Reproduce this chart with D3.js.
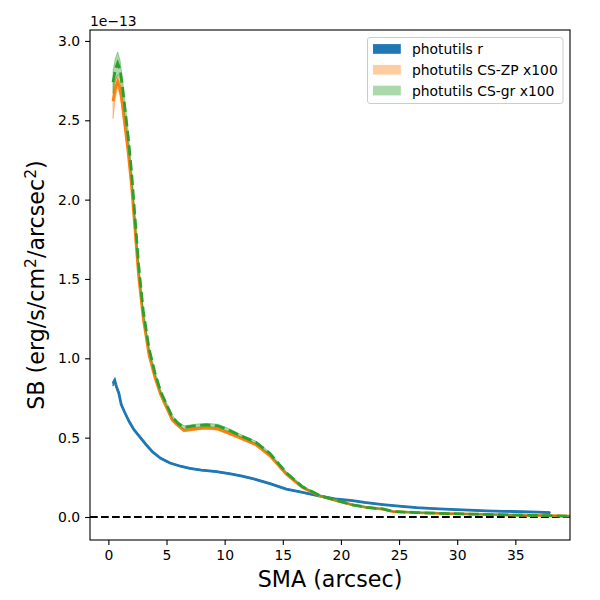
<!DOCTYPE html>
<html>
<head>
<meta charset="utf-8">
<script src="https://cdn.jsdelivr.net/npm/d3@7"></script>
<style>
  body { margin: 0; background: #fff; }
  svg { font-family: "DejaVu Sans", sans-serif; }
</style>
</head>
<body>
<svg id="chart" width="600" height="600"></svg>
<script>
// surface brightness profiles, values in units of 1e-13 erg/s/cm2/arcsec2

// photutils r
var smaR = [0.4, 0.55, 0.7, 0.9, 1.1, 1.4, 1.8, 2.2, 2.7, 3.2, 3.8, 4.5, 5.3, 6.2, 7.0, 8.0, 9.3, 10.5, 11.5, 12.5, 13.9, 15.3, 16.5, 18.2, 19.5, 21.0, 22.0, 23.6, 25.0, 26.5, 28.0, 29.4, 31.0, 32.5, 34.0, 35.5, 37.0, 38.0];
var sbR  = [0.84, 0.86, 0.82, 0.78, 0.71, 0.66, 0.60, 0.55, 0.505, 0.46, 0.41, 0.37, 0.34, 0.32, 0.307, 0.295, 0.286, 0.272, 0.258, 0.24, 0.21, 0.176, 0.158, 0.132, 0.114, 0.103, 0.092, 0.078, 0.068, 0.059, 0.053, 0.048, 0.043, 0.039, 0.036, 0.033, 0.030, 0.027];
var errR = [0.015, 0.012, 0.01, 0.008, 0.006, 0.005, 0.005, 0.004, 0.004, 0.004, 0.003, 0.003, 0.003, 0.003, 0.003, 0.003, 0.003, 0.003, 0.003, 0.003, 0.003, 0.003, 0.002, 0.002, 0.002, 0.002, 0.002, 0.002, 0.002, 0.002, 0.002, 0.002, 0.002, 0.002, 0.002, 0.002, 0.002, 0.002];

// photutils CS-ZP x100 and CS-gr x100 (same sma grid)
var smaCS = [0.4, 0.6, 0.8, 1.0, 1.2, 1.45, 1.7, 2.0, 2.3, 2.6, 3.0, 3.5, 4.0, 4.5, 5.0, 5.5, 6.0, 6.5, 7.5, 8.4, 9.4, 10.3, 11.3, 12.7, 13.9, 15.3, 16.7, 18.2, 19.6, 21.0, 22.2, 23.6, 24.5, 26.5, 29.4, 32.2, 35.0, 38.0, 39.7];
var sbZP  = [2.62, 2.70, 2.745, 2.70, 2.60, 2.45, 2.30, 2.08, 1.80, 1.52, 1.25, 1.02, 0.88, 0.77, 0.69, 0.61, 0.575, 0.545, 0.555, 0.562, 0.555, 0.53, 0.50, 0.455, 0.385, 0.27, 0.185, 0.132, 0.103, 0.076, 0.060, 0.050, 0.034, 0.027, 0.021, 0.017, 0.012, 0.008, 0.005];
var errZP = [0.11, 0.06, 0.04, 0.04, 0.03, 0.025, 0.02, 0.02, 0.02, 0.015, 0.015, 0.012, 0.01, 0.01, 0.01, 0.01, 0.008, 0.008, 0.008, 0.008, 0.008, 0.008, 0.008, 0.007, 0.007, 0.006, 0.005, 0.004, 0.004, 0.003, 0.003, 0.003, 0.003, 0.002, 0.002, 0.002, 0.002, 0.002, 0.002];
var sbGR  = [2.74, 2.82, 2.86, 2.82, 2.72, 2.56, 2.40, 2.17, 1.88, 1.59, 1.30, 1.06, 0.91, 0.79, 0.71, 0.63, 0.59, 0.565, 0.575, 0.58, 0.575, 0.55, 0.515, 0.47, 0.40, 0.28, 0.19, 0.135, 0.105, 0.077, 0.061, 0.051, 0.035, 0.028, 0.021, 0.017, 0.012, 0.008, 0.005];
var errGR = [0.07, 0.07, 0.07, 0.06, 0.05, 0.04, 0.03, 0.025, 0.02, 0.02, 0.015, 0.012, 0.01, 0.01, 0.01, 0.01, 0.01, 0.01, 0.01, 0.01, 0.01, 0.01, 0.008, 0.008, 0.007, 0.006, 0.005, 0.004, 0.004, 0.003, 0.003, 0.003, 0.003, 0.002, 0.002, 0.002, 0.002, 0.002, 0.002];

var xTicks = [0, 5, 10, 15, 20, 25, 30, 35];
var yTicks = [0.0, 0.5, 1.0, 1.5, 2.0, 2.5, 3.0];
var legendNames = ["photutils r", "photutils CS-ZP x100", "photutils CS-gr x100"];

var svg = d3.select("#chart");
var axL = 90, axR = 570, axT = 30, axB = 540;

var x = d3.scaleLinear().domain([-1.58, 39.7]).range([axL, axR]);
var y = d3.scaleLinear().domain([-0.145, 3.069]).range([axB, axT]);

svg.append("defs").append("clipPath").attr("id", "clip")
  .append("rect").attr("x", axL).attr("y", axT)
  .attr("width", axR - axL).attr("height", axB - axT);

var plot = svg.append("g").attr("clip-path", "url(#clip)");

// zero line
plot.append("line")
  .attr("x1", axL).attr("x2", axR)
  .attr("y1", y(0)).attr("y2", y(0))
  .attr("stroke", "black").attr("stroke-width", 2.08)
  .attr("stroke-dasharray", "7.7,3.3");

function drawSeries(sma, sb, err, color, fillOpacity, dashed) {
  var pts = sma.map((s, i) => ({x: s, y: sb[i], e: err[i]}));
  var area = d3.area()
    .x(d => x(d.x))
    .y0(d => y(d.y - d.e))
    .y1(d => y(d.y + d.e));
  plot.append("path").datum(pts)
    .attr("d", area)
    .attr("fill", color).attr("fill-opacity", fillOpacity)
    .attr("stroke", color).attr("stroke-opacity", fillOpacity).attr("stroke-width", 1);
  var line = d3.line().x(d => x(d.x)).y(d => y(d.y));
  plot.append("path").datum(pts)
    .attr("d", line)
    .attr("fill", "none")
    .attr("stroke", color).attr("stroke-width", 2.78)
    .attr("stroke-dasharray", dashed ? "10.3,4.4" : null);
}

drawSeries(smaR, sbR, errR, "#1f77b4", 1, false);
drawSeries(smaCS, sbZP, errZP, "#ff7f0e", 0.4, false);
drawSeries(smaCS, sbGR, errGR, "#2ca02c", 0.4, true);

// axes
var xAxis = svg.append("g").attr("transform", "translate(0," + axB + ")")
  .call(d3.axisBottom(x).tickValues(xTicks).tickFormat(d3.format("d")).tickSize(4.9).tickPadding(4.9));
var yAxis = svg.append("g").attr("transform", "translate(" + axL + ",0)")
  .call(d3.axisLeft(y).tickValues(yTicks).tickFormat(d3.format(".1f")).tickSize(4.9).tickPadding(4.9));

[xAxis, yAxis].forEach(g => {
  g.select(".domain").remove();
  g.selectAll(".tick line").attr("stroke", "black").attr("stroke-width", 1.1);
  g.selectAll(".tick text").attr("font-family", "DejaVu Sans").attr("font-size", 13.9).attr("fill", "black");
});

svg.append("rect")
  .attr("x", axL).attr("y", axT)
  .attr("width", axR - axL).attr("height", axB - axT)
  .attr("fill", "none").attr("stroke", "black").attr("stroke-width", 1.1);

// offset text
svg.append("text").attr("x", axL).attr("y", 26)
  .attr("font-size", 13.9).text("1e\u221213");

// axis labels
svg.append("text").attr("x", (axL + axR) / 2).attr("y", 587)
  .attr("text-anchor", "middle").attr("font-size", 22.2)
  .text("SMA (arcsec)");

var yl = svg.append("text")
  .attr("transform", "translate(43.5," + ((axT + axB) / 2) + ") rotate(-90)")
  .attr("text-anchor", "middle").attr("font-size", 22.2);
yl.append("tspan").text("SB (erg/s/cm");
yl.append("tspan").attr("dy", -8).attr("font-size", 15.5).text("2");
yl.append("tspan").attr("dy", 8).text("/arcsec");
yl.append("tspan").attr("dy", -8).attr("font-size", 15.5).text("2");
yl.append("tspan").attr("dy", 8).text(")");

// legend
var leg = svg.append("g");
leg.append("rect")
  .attr("x", 367.5).attr("y", 37.5).attr("width", 195.5).attr("height", 66)
  .attr("rx", 2.5).attr("fill", "white").attr("fill-opacity", 0.8)
  .attr("stroke", "#cccccc").attr("stroke-width", 1);
var legColors = ["#1f77b4", "#ff7f0e", "#2ca02c"];
var legOpacity = [1, 0.4, 0.4];
legendNames.forEach((name, i) => {
  var cy = 49 + i * 20.8;
  leg.append("rect")
    .attr("x", 373).attr("y", cy - 4.9).attr("width", 27.8).attr("height", 9.7)
    .attr("fill", legColors[i]).attr("fill-opacity", legOpacity[i]);
  leg.append("text")
    .attr("x", 412).attr("y", cy + 5)
    .attr("font-size", 13.9).text(name);
});
</script>
</body>
</html>
